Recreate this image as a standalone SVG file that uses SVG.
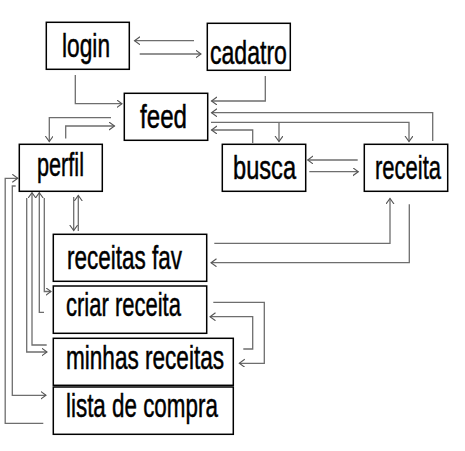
<svg xmlns="http://www.w3.org/2000/svg" width="465" height="451" viewBox="0 0 465 451">
<defs>
<marker id="ah" markerUnits="userSpaceOnUse" markerWidth="8" markerHeight="10" refX="5.5" refY="4" orient="auto">
<path d="M0,0 L5.5,4 L0,8" fill="none" stroke="#555" stroke-width="1.1"/>
</marker>
<style>
.box{fill:#fff;stroke:#000;stroke-width:1.5}
.lbl{font-family:"Liberation Sans",Arial,sans-serif;font-size:33px;fill:#000;stroke:#000;stroke-width:0.5}
.c path{fill:none;stroke:#6e6e6e;stroke-width:1.3}
.c .a{marker-end:url(#ah)}
</style>
</defs>
<rect width="465" height="451" fill="#fff"/>
<g class="c" id="connectors">
<path class="a" d="M194,40.7 H134.5"/>
<path class="a" d="M139.7,54 H201"/>
<path class="a" d="M75.3,75 V103.7 H122"/>
<path class="a" d="M111,117.7 H49.3 V141.5"/>
<path class="a" d="M65.7,138.5 V126 H114.5"/>
<path class="a" d="M265.3,76 V101 H211.5"/>
<path class="a" d="M432.7,141 V112.7 H211.5"/>
<path class="a" d="M211,122.3 H409 V141.5"/>
<path class="a" d="M279,122.3 V141.5"/>
<path class="a" d="M252.7,143 V130 H211.5"/>
<path class="a" d="M357.7,160 H307.7"/>
<path class="a" d="M309.3,171.7 H358.3"/>
<path class="a" d="M214.3,243.3 H390 V198.5"/>
<path class="a" d="M409.3,204.3 V262.7 H211"/>
<path class="a" d="M73.7,197 V230.5"/>
<path class="a" d="M78.3,231 V195.5"/>
<path class="a" d="M43.3,423.3 H5.2 V178.3 H17.8"/>
<path class="a" d="M15.7,186 H12.3 V395.3 H46"/>
<path class="a" d="M26.7,198 V352 H47"/>
<path class="a" d="M46.7,345 H32 V192.7"/>
<path class="a" d="M44,312.3 H39.3 V192.7"/>
<path class="a" d="M44.3,198 V291.5 H51"/>
<path class="a" d="M213.3,302.3 H264.3 V363.3 H239.3"/>
<path class="a" d="M243.3,349 H252.7 V316.7 H210"/>
</g>
<g id="login"><rect class="box" x="46.3" y="22.3" width="83" height="47"/><text class="lbl" transform="translate(62,57) scale(0.689,1)">login</text></g>
<g id="cadatro"><rect class="box" x="207.3" y="23.3" width="83" height="47"/><text class="lbl" transform="translate(210,64) scale(0.699,1)">cadatro</text></g>
<g id="feed"><rect class="box" x="124.3" y="93.3" width="83.4" height="47"/><text class="lbl" transform="translate(140,128) scale(0.732,1)">feed</text></g>
<g id="perfil"><rect class="box" x="19.3" y="144.3" width="83" height="47"/><text class="lbl" transform="translate(37,176) scale(0.657,1)">perfil</text></g>
<g id="busca"><rect class="box" x="222.3" y="144.3" width="83.4" height="47"/><text class="lbl" transform="translate(233,178.5) scale(0.716,1)">busca</text></g>
<g id="receita"><rect class="box" x="364.3" y="144.3" width="83.4" height="47"/><text class="lbl" transform="translate(375,178.5) scale(0.667,1)">receita</text></g>
<g id="receitas-fav"><rect class="box" x="53.3" y="234.3" width="153.4" height="47"/><text class="lbl" transform="translate(67,268.5) scale(0.682,1)">receitas fav</text></g>
<g id="criar-receita"><rect class="box" x="53.3" y="286" width="153.4" height="47.3"/><text class="lbl" transform="translate(66,316) scale(0.667,1)">criar receita</text></g>
<g id="minhas-receitas"><rect class="box" x="53.3" y="338.3" width="180" height="47"/><text class="lbl" transform="translate(66,368.5) scale(0.684,1)">minhas receitas</text></g>
<g id="lista-de-compra"><rect class="box" x="53.3" y="387" width="180" height="47.3"/><text class="lbl" transform="translate(66,417) scale(0.679,1)">lista de compra</text></g>
</svg>
